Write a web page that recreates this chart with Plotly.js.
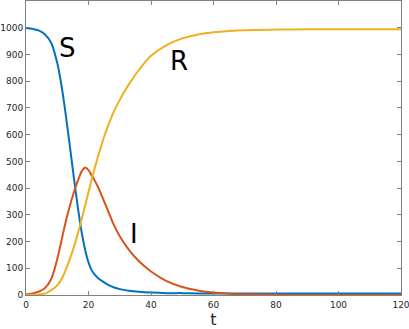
<!DOCTYPE html>
<html>
<head>
<meta charset="utf-8">
<script src="https://cdn.plot.ly/plotly-3.0.1.min.js"></script>
<style>
  html, body { margin: 0; padding: 0; background: #fff; }
  #chart { width: 409px; height: 329px; }
</style>
</head>
<body>
<div id="chart"></div>
<script>
// time points
var tVals = [0, 2, 4, 6, 8, 10, 11, 12, 13, 14, 15, 16, 17, 18, 19, 20, 21, 22, 23, 24, 25, 26, 27, 28, 30, 33, 36, 40, 45, 50, 55, 60, 65, 70, 80, 90, 100, 110, 120];

// susceptible, infected, recovered
var sVals = [999, 996, 990, 976, 945, 868, 808, 735, 650, 560, 468, 378, 295, 222, 165, 122, 93, 76, 64, 55, 47, 40, 34, 29, 22, 16, 12, 9, 7, 7, 6, 6, 6, 6, 6, 6, 6, 6, 6];
var iVals = [3, 6, 12, 25, 58, 135, 185, 238, 288, 332, 372, 408, 440, 466, 477, 467, 448, 428, 405, 378, 350, 322, 293, 265, 220, 168, 128, 88, 52, 30, 17, 9, 5, 3, 1, 0, 0, 0, 0];
var rVals = [0, 1, 2, 5, 17, 36, 52, 74, 102, 133, 168, 206, 248, 292, 338, 385, 432, 475, 516, 555, 592, 625, 655, 683, 730, 790, 840, 895, 935, 960, 975, 983, 988, 991, 993, 994, 994, 994, 994];

var curveNames = ["S", "I", "R"];
var curveColors = ["#0072BD", "#D95319", "#EDB120"];

// label positions (data coords)
var labelX = [13.4, 34.6, 49];
var labelY = [925, 227, 874];

var xTicks = [0, 20, 40, 60, 80, 100, 120];
var yTicks = [0, 100, 200, 300, 400, 500, 600, 700, 800, 900, 1000];

var series = [sVals, iVals, rVals];
var data = [];
for (var k = 0; k < series.length; k++) {
  data.push({
    x: tVals,
    y: series[k],
    type: "scatter",
    mode: "lines",
    name: curveNames[k],
    line: {color: curveColors[k], width: 2, shape: "spline", smoothing: 1},
    hoverinfo: "skip"
  });
}

var notes = [];
for (var j = 0; j < curveNames.length; j++) {
  notes.push({
    x: labelX[j], y: labelY[j], xref: "x", yref: "y",
    text: curveNames[j], showarrow: false,
    font: {family: "DejaVu Sans", size: 26, color: "#000"}
  });
}

var axisStyle = {
  showline: true, linecolor: "#808080", linewidth: 1,
  mirror: "ticks", ticks: "inside", ticklen: 4, tickcolor: "#808080",
  showgrid: false, zeroline: false, ticklabeloverflow: "allow",
  tickfont: {family: "DejaVu Sans", size: 9, color: "#262626"}
};

var layout = {
  width: 409, height: 329,
  margin: {l: 26, r: 8, t: 1, b: 34},
  paper_bgcolor: "#fff", plot_bgcolor: "#fff",
  showlegend: false,
  xaxis: Object.assign({}, axisStyle, {
    range: [0, 120], tickvals: xTicks, ticklabelstandoff: 1,
    title: {text: "t", standoff: 8, font: {family: "DejaVu Sans", size: 16, color: "#262626"}}
  }),
  yaxis: Object.assign({}, axisStyle, {
    range: [0, 1100], tickvals: yTicks, ticklabelstandoff: 0
  }),
  annotations: notes
};

Plotly.newPlot("chart", data, layout, {displayModeBar: false, staticPlot: true});
</script>
</body>
</html>
